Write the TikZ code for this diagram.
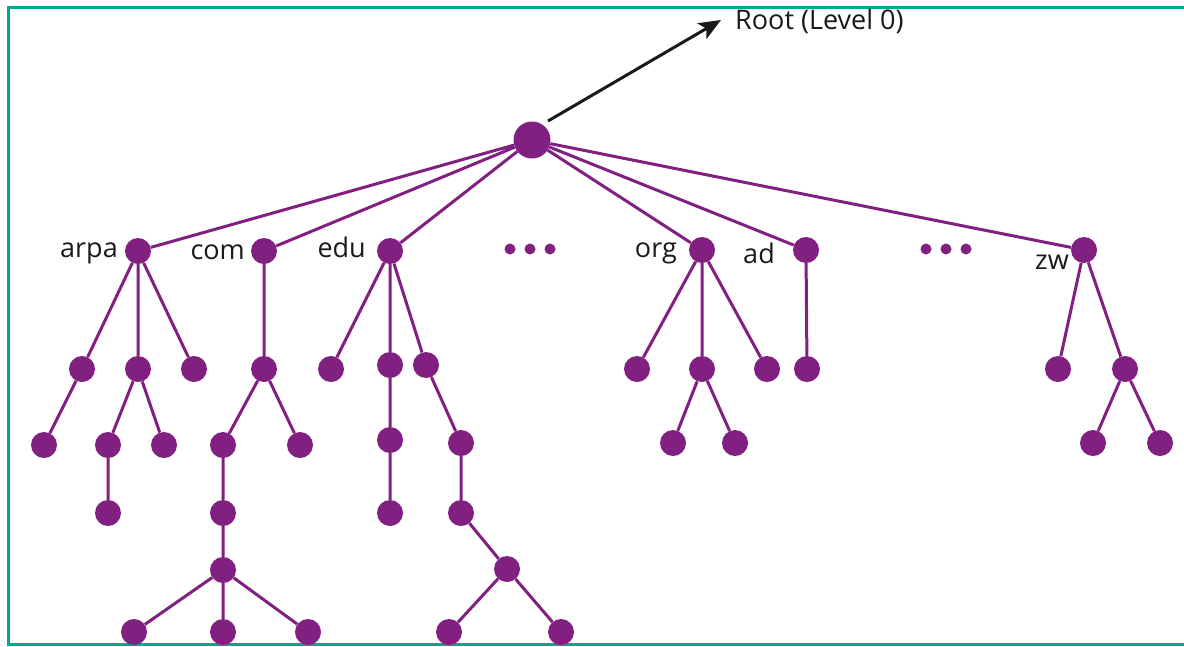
\documentclass[tikz,border=0pt]{standalone}
\usepackage{fontspec}
\setmainfont{Open Sans}
\usetikzlibrary{arrows.meta}
\definecolor{dnspurple}{HTML}{822081}
\definecolor{frameteal}{HTML}{00A88F}

\tikzstyle{domdot} = [circle, fill=dnspurple, minimum size=26pt, inner sep=0pt]
\tikzstyle{rootdot} = [domdot, minimum size=37pt]
\tikzstyle{ellip} = [domdot, minimum size=11pt]
\tikzstyle{domlabel} = [font=\fontsize{27}{32}\selectfont, text=black!90, inner sep=0pt]
\tikzstyle{link} = [draw=dnspurple, line width=3pt]

\begin{document}
\begin{tikzpicture}[x=1pt, y=-1pt]
\useasboundingbox (0,0) rectangle (1184,646);
\draw[frameteal, line width=3pt] (1190,7) -- (8,7) -- (8,644) -- (1190,644);

% root and top level domains
\node[rootdot] (root) at (532,140) {};
\node[domdot] (arpa) at (138,251) {};
\node[domdot] (com) at (264,251) {};
\node[domdot] (edu) at (390,251) {};
\node[domdot] (org) at (702,250) {};
\node[domdot] (ad) at (806,250) {};
\node[domdot] (zw) at (1084,250) {};
\node[ellip] (dotsA1) at (510,249) {};
\node[ellip] (dotsA2) at (530,249) {};
\node[ellip] (dotsA3) at (550,249) {};
\node[ellip] (dotsB1) at (926,249) {};
\node[ellip] (dotsB2) at (946,249) {};
\node[ellip] (dotsB3) at (966,249) {};

\node[domlabel, anchor=base east] (arpaname) at (118,257) {arpa};
\node[domlabel, anchor=base east] (comname) at (245,259) {com};
\node[domlabel, anchor=base east] (eduname) at (366,257) {edu};
\node[domlabel, anchor=base east] (orgname) at (677,257) {org};
\node[domlabel, anchor=base east] (adname) at (775,263) {ad};
\node[domlabel, anchor=base east] (zwname) at (1069,269) {zw};
\node[domlabel, anchor=base west] (rootname) at (735,29) {Root (Level 0)};

% arpa subtree
\node[domdot] (a1) at (82,369) {};
\node[domdot] (a2) at (138,369) {};
\node[domdot] (a3) at (194,369) {};
\node[domdot] (a11) at (44,445) {};
\node[domdot] (a21) at (108,445) {};
\node[domdot] (a22) at (164,445) {};
\node[domdot] (a211) at (108,513) {};

% com subtree
\node[domdot] (c1) at (264,369) {};
\node[domdot] (c11) at (223,445) {};
\node[domdot] (c12) at (300,445) {};
\node[domdot] (c111) at (223,513) {};
\node[domdot] (c1111) at (223,570) {};
\node[domdot] (c1111a) at (134,632) {};
\node[domdot] (c1111b) at (223,632) {};
\node[domdot] (c1111c) at (308,632) {};

% edu subtree
\node[domdot] (e1) at (331,369) {};
\node[domdot] (e2) at (390,365) {};
\node[domdot] (e3) at (426,365) {};
\node[domdot] (e21) at (390,440) {};
\node[domdot] (e211) at (390,513) {};
\node[domdot] (e31) at (461,443) {};
\node[domdot] (e311) at (461,513) {};
\node[domdot] (e3111) at (507,569) {};
\node[domdot] (e3111a) at (449,632) {};
\node[domdot] (e3111b) at (561,632) {};

% org, ad and zw subtrees
\node[domdot] (o1) at (637,369) {};
\node[domdot] (o2) at (702,369) {};
\node[domdot] (o3) at (767,369) {};
\node[domdot] (o21) at (673,443) {};
\node[domdot] (o22) at (735,443) {};
\node[domdot] (d1) at (807,369) {};
\node[domdot] (z1) at (1058,369) {};
\node[domdot] (z2) at (1125,369) {};
\node[domdot] (z21) at (1093,443) {};
\node[domdot] (z22) at (1160,443) {};

\draw[link] (root) -- (arpa) (root) -- (com) (root) -- (edu)
            (root) -- (org) (root) -- (ad) (root) -- (zw);
\draw[link] (arpa) -- (a1) (arpa) -- (a2) (arpa) -- (a3)
            (a1) -- (a11) (a2) -- (a21) (a2) -- (a22) (a21) -- (a211);
\draw[link] (com) -- (c1) (c1) -- (c11) (c1) -- (c12) (c11) -- (c111) (c111) -- (c1111)
            (c1111) -- (c1111a) (c1111) -- (c1111b) (c1111) -- (c1111c);
\draw[link] (edu) -- (e1) (edu) -- (e2) (edu) -- (e3) (e2) -- (e21) (e21) -- (e211)
            (e3) -- (e31) (e31) -- (e311) (e311) -- (e3111)
            (e3111) -- (e3111a) (e3111) -- (e3111b);
\draw[link] (org) -- (o1) (org) -- (o2) (org) -- (o3) (o2) -- (o21) (o2) -- (o22)
            (ad) -- (d1) (zw) -- (z1) (zw) -- (z2) (z2) -- (z21) (z2) -- (z22);

% pointer to the root
\coordinate (arrowstart) at (548,121);
\coordinate (arrowtip) at (721,20);
\draw[black!90, line width=3pt, -{Stealth[length=22pt, width=18pt, inset=5pt]}] (arrowstart) -- (arrowtip);
\end{tikzpicture}
\end{document}
